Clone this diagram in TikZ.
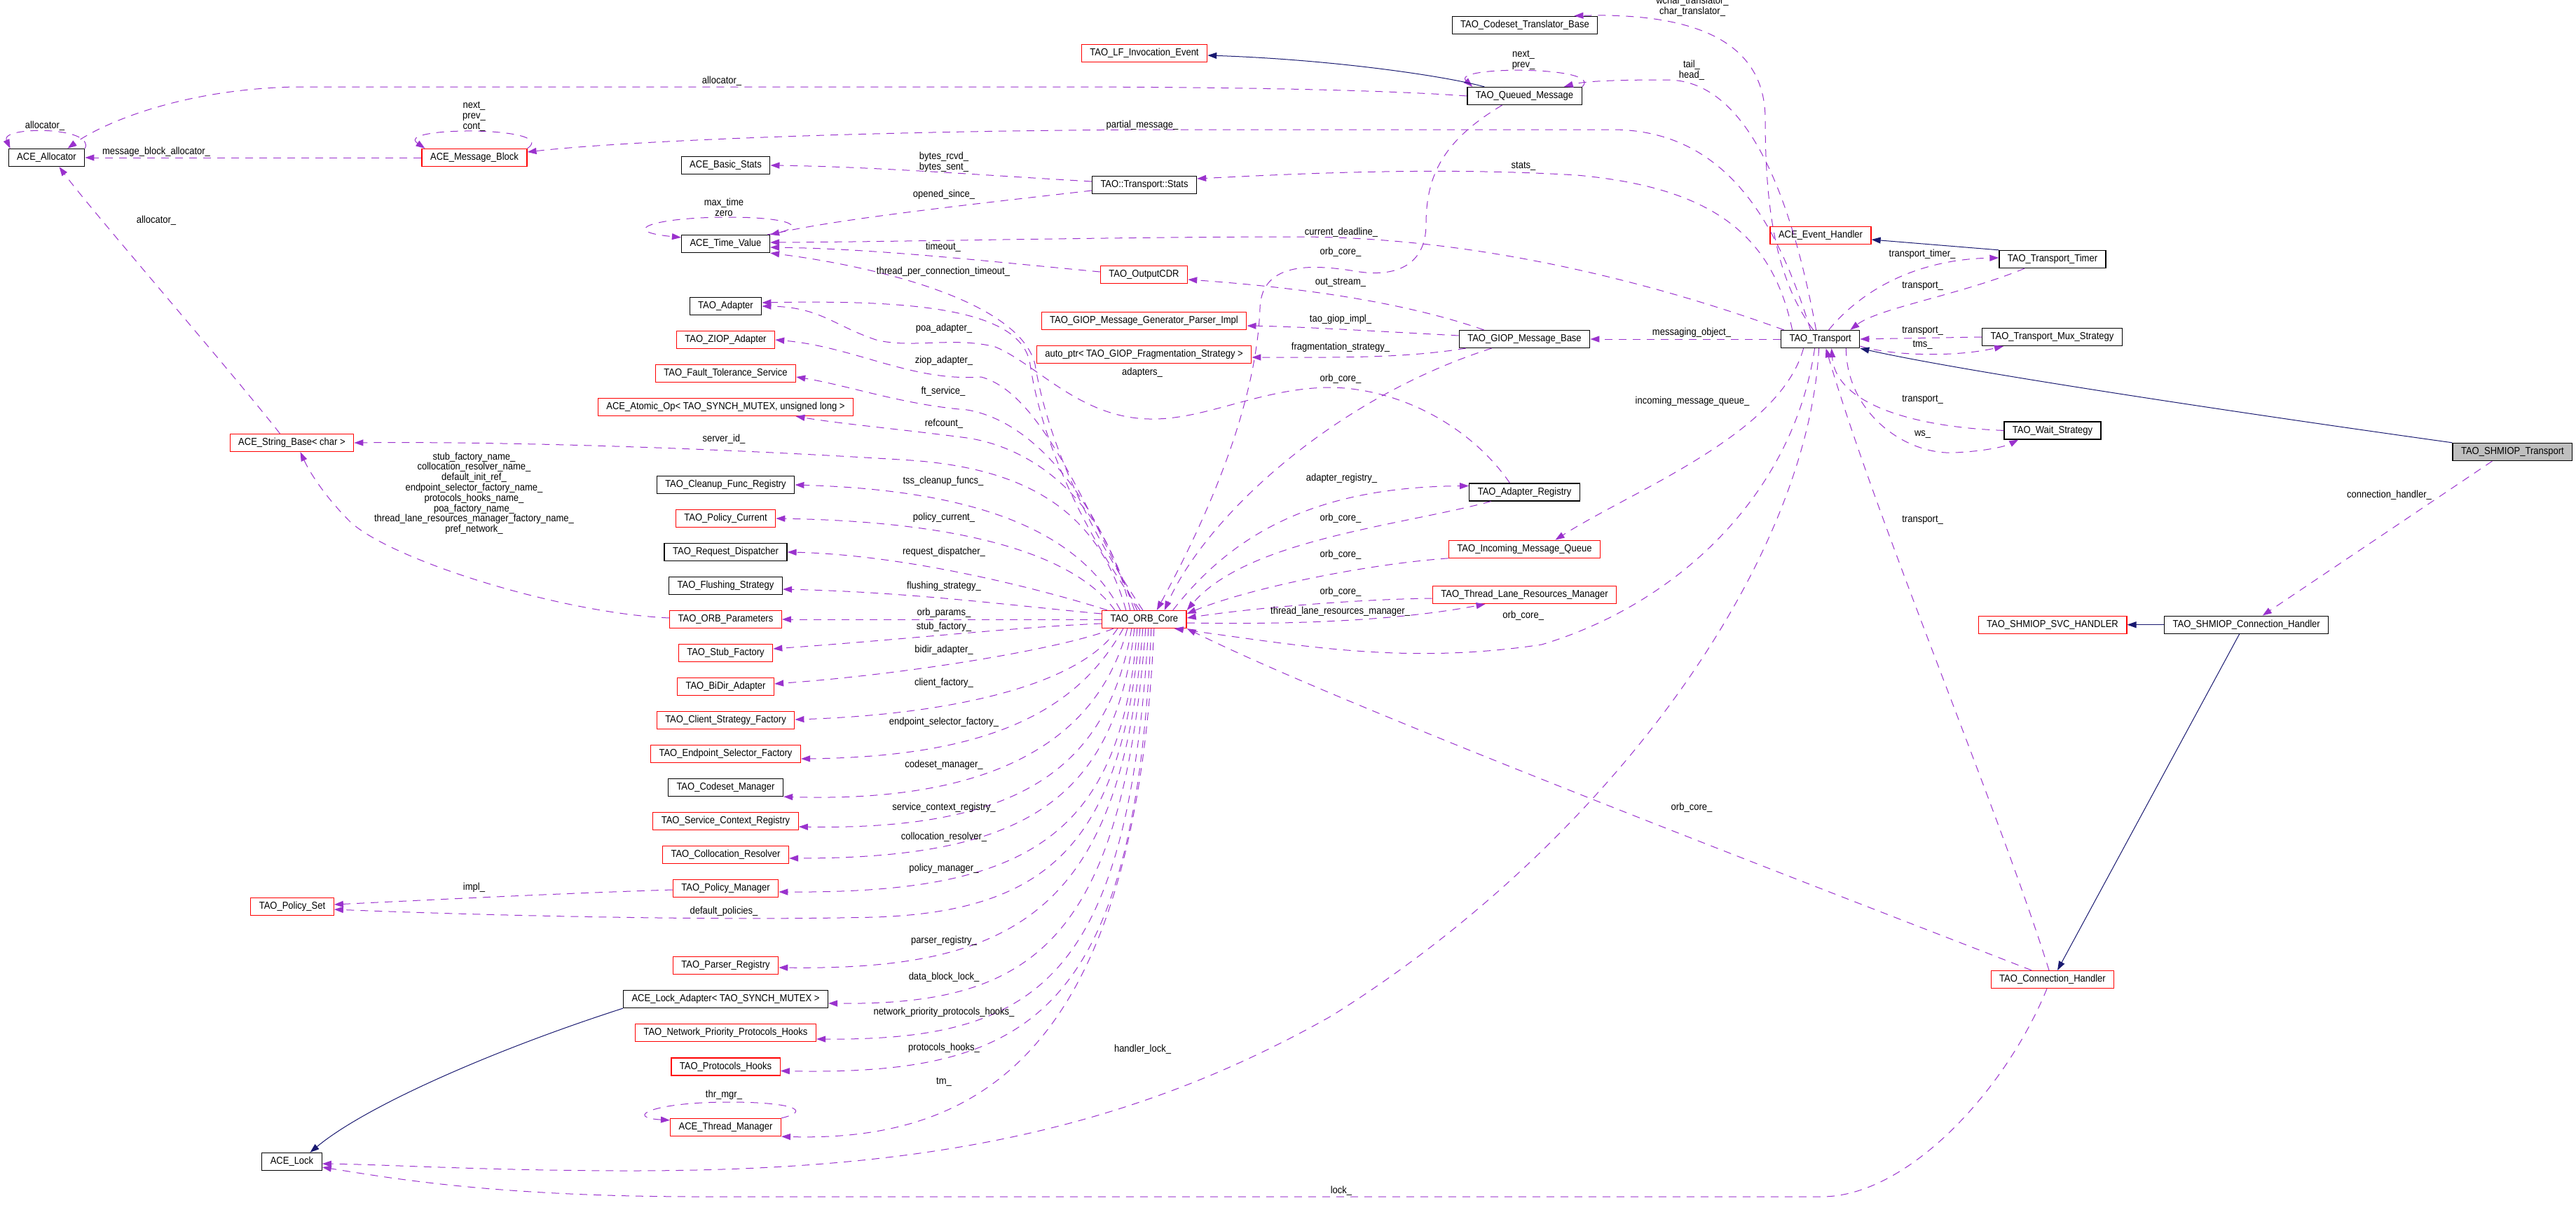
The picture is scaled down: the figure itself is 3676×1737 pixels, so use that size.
\documentclass[tikz,border=0pt]{standalone}
\usepackage{fontspec}
\setmainfont{Liberation Sans}[FakeStretch=0.9]
\usepackage{tikz}
\usetikzlibrary{arrows.meta}
\definecolor{relcol}{RGB}{154,50,205}
\definecolor{inhcol}{RGB}{25,25,112}
\definecolor{hilite}{RGB}{191,191,191}
\tikzset{
  classnode/.style = {rectangle, draw, line width=1.3pt, minimum height=25pt,
    inner xsep=12pt, inner ysep=0pt, font=\fontsize{14.45}{14.8}\selectfont},
  cls_n/.style = {classnode, draw=black},% classe, bord noir
  cls_r/.style = {classnode, draw=red},% classe, bord rouge
  cls_g/.style = {classnode, draw=black, fill=hilite},% classe du graphe
  rel_u/.style = {->, draw=relcol, line width=1pt,
    dash pattern=on 11pt off 9pt},% membre utilise
  rel_h/.style = {->, draw=inhcol, line width=1pt},% heritage
  rel_l/.style = {inner sep=0pt, align=center,
    font=\fontsize{14.45}{14.8}\selectfont}% nom du membre
}
\begin{document}
\begin{tikzpicture}[x=1pt,y=-1pt,>={Triangle[length=13pt,width=9pt]}]
\useasboundingbox (0,0) rectangle (3676,1737);
% classes
\node[cls_n] (alloc) at (66.5,225) {ACE\_Allocator};
\node[cls_r] (msgblk) at (677,225) {ACE\_Message\_Block};
\node[cls_r] (strbase) at (416.5,632) {ACE\_String\_Base< char >};
\node[cls_r] (polset) at (417,1294) {TAO\_Policy\_Set};
\node[cls_n] (acelock) at (416.5,1658) {ACE\_Lock};
\node[cls_n] (bstats) at (1035.5,236) {ACE\_Basic\_Stats};
\node[cls_n] (tval) at (1035.5,348) {ACE\_Time\_Value};
\node[cls_n] (adapter) at (1035.5,437) {TAO\_Adapter};
\node[cls_r] (ziop) at (1035.5,485) {TAO\_ZIOP\_Adapter};
\node[cls_r] (ftsvc) at (1035.5,533) {TAO\_Fault\_Tolerance\_Service};
\node[cls_r] (atomic) at (1035.5,581) {ACE\_Atomic\_Op< TAO\_SYNCH\_MUTEX, unsigned long >};
\node[cls_n] (cleanup) at (1035.5,692) {TAO\_Cleanup\_Func\_Registry};
\node[cls_r] (polcur) at (1035.5,740) {TAO\_Policy\_Current};
\node[cls_n] (reqdisp) at (1035.5,788) {TAO\_Request\_Dispatcher};
\node[cls_n] (flush) at (1035.5,836) {TAO\_Flushing\_Strategy};
\node[cls_r] (orbparams) at (1035.5,884) {TAO\_ORB\_Parameters};
\node[cls_r] (stubf) at (1035.5,932) {TAO\_Stub\_Factory};
\node[cls_r] (bidir) at (1035.5,980) {TAO\_BiDir\_Adapter};
\node[cls_r] (clientf) at (1035.5,1028) {TAO\_Client\_Strategy\_Factory};
\node[cls_r] (endpf) at (1035.5,1076) {TAO\_Endpoint\_Selector\_Factory};
\node[cls_n] (codeset) at (1035.5,1124) {TAO\_Codeset\_Manager};
\node[cls_r] (scr) at (1035.5,1172) {TAO\_Service\_Context\_Registry};
\node[cls_r] (collres) at (1035.5,1220) {TAO\_Collocation\_Resolver};
\node[cls_r] (polmgr) at (1035.5,1268) {TAO\_Policy\_Manager};
\node[cls_r] (parser) at (1035.5,1378) {TAO\_Parser\_Registry};
\node[cls_n] (lockad) at (1035.5,1426) {ACE\_Lock\_Adapter< TAO\_SYNCH\_MUTEX >};
\node[cls_r] (nphooks) at (1035.5,1474) {TAO\_Network\_Priority\_Protocols\_Hooks};
\node[cls_r] (phooks) at (1035.5,1522.5) {TAO\_Protocols\_Hooks};
\node[cls_r] (thrmgr) at (1035.5,1609) {ACE\_Thread\_Manager};
\node[cls_r] (lfinv) at (1633,76) {TAO\_LF\_Invocation\_Event};
\node[cls_n] (tstats) at (1633,264) {TAO::Transport::Stats};
\node[cls_r] (ocdr) at (1632.5,392) {TAO\_OutputCDR};
\node[cls_r] (gpimpl) at (1632.5,458) {TAO\_GIOP\_Message\_Generator\_Parser\_Impl};
\node[cls_r] (fragst) at (1632.5,506) {auto\_ptr< TAO\_GIOP\_Fragmentation\_Strategy >};
\node[cls_r] (core) at (1632.8,884) {TAO\_ORB\_Core};
\node[cls_n] (cstrans) at (2176,35.7) {TAO\_Codeset\_Translator\_Base};
\node[cls_n] (qmsg) at (2175.5,137) {TAO\_Queued\_Message};
\node[cls_n] (giop) at (2175.5,484) {TAO\_GIOP\_Message\_Base};
\node[cls_n] (adreg) at (2175.5,702.5) {TAO\_Adapter\_Registry};
\node[cls_r] (imq) at (2175.5,783.7) {TAO\_Incoming\_Message\_Queue};
\node[cls_r] (tlrm) at (2175.5,849) {TAO\_Thread\_Lane\_Resources\_Manager};
\node[cls_r] (evh) at (2598,336) {ACE\_Event\_Handler};
\node[cls_n] (transport) at (2597.6,484) {TAO\_Transport};
\node[cls_n] (ttimer) at (2929,370) {TAO\_Transport\_Timer};
\node[cls_n] (tmux) at (2928.5,481) {TAO\_Transport\_Mux\_Strategy};
\node[cls_n] (twait) at (2929,614.4) {TAO\_Wait\_Strategy};
\node[cls_r] (svch) at (2929,891.7) {TAO\_SHMIOP\_SVC\_HANDLER};
\node[cls_r] (connh) at (2929,1398) {TAO\_Connection\_Handler};
\node[cls_n] (shmch) at (3205.7,891.7) {TAO\_SHMIOP\_Connection\_Handler};
\node[cls_g] (shmt) at (3585.4,645) {TAO\_SHMIOP\_Transport};

% ACE_Allocator, ACE_Message_Block
\draw[rel_u] (alloc.north east) .. controls (135,180) and (0,180) .. ([xshift=3pt]alloc.north west);
\draw[rel_u] (qmsg.west) .. controls (2000,130) and (1800,124) .. (1500,124) -- (420,124) .. controls (250,128) and (140,180) .. ([xshift=30pt]alloc.north);
\draw[rel_u] (msgblk.west) -- (alloc.east);
\draw[rel_u] ([xshift=-17pt]strbase.north) .. controls (330,530) and (130,300) .. ([xshift=18pt]alloc.south);
\draw[rel_u] (msgblk.north east) .. controls (800,180) and (560,180) .. ([xshift=5pt]msgblk.north west);
\draw[rel_u] ([xshift=-14pt]transport.north) .. controls (2540,330) and (2470,185) .. (2300,185) -- (1700,185) .. controls (1300,185) and (900,200) .. ([yshift=8pt]msgblk.east);

% TAO_Transport, upwards
\draw[rel_u] ([xshift=-10pt]transport.north) .. controls (2535,400) and (2519,300) .. (2519,170) .. controls (2519,60) and (2420,18) .. ([xshift=-34pt]cstrans.north east);
\draw[rel_u] ([xshift=-6pt]transport.north) .. controls (2560,300) and (2500,115) .. (2380,114) .. controls (2300,114) and (2260,116) .. ([xshift=-26pt]qmsg.north east);
\draw[rel_u] (qmsg.north east) .. controls (2290,94) and (2070,94) .. ([xshift=8pt]qmsg.north west);
\draw[rel_h] ([xshift=25pt]qmsg.north west) .. controls (2060,108) and (1900,85) .. ([yshift=-3pt]lfinv.east);
\draw[rel_u] ([xshift=-32pt]qmsg.south) .. controls (2060,200) and (2035,250) .. (2035,320) .. controls (2035,380) and (1990,395) .. (1940,388) .. controls (1880,378) and (1800,370) .. (1798,440) .. controls (1792,600) and (1700,780) .. ([xshift=18pt]core.north);
\draw[rel_u] ([xshift=-40pt]transport.north) .. controls (2530,340) and (2450,268) .. (2250,250) .. controls (2050,238) and (1850,248) .. ([yshift=9pt]tstats.east);
\draw[rel_u] ([xshift=-52pt]transport.north) .. controls (2350,400) and (2100,338) .. (1850,338) .. controls (1600,338) and (1300,345) .. ([yshift=2pt]tval.east);

% TAO_Transport, right side
\draw[rel_h] (ttimer.north west) -- ([yshift=-6pt]evh.east);
\draw[rel_u] ([xshift=12pt]transport.north) .. controls (2660,410) and (2740,370) .. ([yshift=2pt]ttimer.west);
\draw[rel_u] ([xshift=-40pt]ttimer.south) .. controls (2800,420) and (2680,440) .. ([xshift=-14pt]transport.north east);
\draw[rel_u] (tmux.west) -- (transport.east);
\draw[rel_u] ([yshift=-10pt]transport.east) .. controls (2700,508) and (2790,510) .. ([xshift=31pt]tmux.south west);
\draw[rel_h] (shmt.north west) .. controls (3200,590) and (2800,530) .. (transport.south east);
\draw[rel_u] ([xshift=-20pt]transport.south east) .. controls (2635,590) and (2720,650) .. (2790,646) .. controls (2830,644) and (2860,638) .. ([xshift=21pt]twait.south west);
\draw[rel_u] (twait.west) .. controls (2740,610) and (2620,580) .. ([xshift=16pt]transport.south);

% connection handlers
\draw[rel_u] ([xshift=-29pt]shmt.south) -- ([xshift=23pt]shmch.north);
\draw[rel_h] (shmch.west) -- (svch.east);
\draw[rel_h] ([xshift=-10pt]shmch.south) -- ([xshift=7pt]connh.north);
\draw[rel_u] ([xshift=-5pt]connh.north) .. controls (2850,1150) and (2680,750) .. ([xshift=8pt]transport.south);
\draw[rel_u] ([xshift=-30pt]connh.north) .. controls (2500,1230) and (1900,1000) .. (core.south east);
\draw[rel_u] ([xshift=-8pt]connh.south) .. controls (2860,1560) and (2720,1708) .. (2600,1708) -- (1000,1708) .. controls (700,1708) and (550,1680) .. ([yshift=-8pt]acelock.east);
\draw[rel_u] ([xshift=-2pt]transport.south) .. controls (2580,800) and (2300,1200) .. (1900,1450) .. controls (1600,1620) and (1300,1671) .. (900,1671) .. controls (700,1671) and (550,1662) .. ([yshift=-3pt]acelock.east);

% TAO_Transport, left and down
\draw[rel_u] (transport.west) -- (giop.east);
\draw[rel_u] ([xshift=-24pt]transport.south) .. controls (2540,620) and (2330,700) .. ([xshift=44pt]imq.north);
\draw[rel_u] ([xshift=-8pt]transport.south) .. controls (2560,700) and (2400,860) .. (2200,920) .. controls (2000,950) and (1850,920) .. ([xshift=-18pt]core.south east);

% TAO_GIOP_Message_Base
\draw[rel_u] ([xshift=-58pt]giop.north) .. controls (2000,430) and (1850,410) .. ([yshift=-7pt]ocdr.east);
\draw[rel_u] ([yshift=5pt]giop.west) .. controls (1950,472) and (1850,466) .. ([yshift=-7pt]gpimpl.east);
\draw[rel_u] ([xshift=10pt]giop.south west) .. controls (2000,512) and (1900,510) .. ([yshift=-4pt]fragst.east);
\draw[rel_u] ([xshift=-47pt]giop.south) .. controls (1900,570) and (1720,740) .. ([xshift=29pt]core.north);

% stats, time value
\draw[rel_u] ([yshift=5pt]tstats.west) .. controls (1400,250) and (1250,238) .. (bstats.east);
\draw[rel_u] ([yshift=-8pt]tstats.west) .. controls (1400,290) and (1200,312) .. (tval.north east);
\draw[rel_u] ([xshift=-4pt]tval.north east) .. controls (1160,325) and (1130,310) .. (1040,310) .. controls (930,310) and (880,330) .. ([yshift=-4pt]tval.north west);
\draw[rel_u] ([yshift=4pt]ocdr.west) .. controls (1400,372) and (1250,355) .. ([yshift=-5pt]tval.east);

% TAO_ORB_Core, upper members
\draw[rel_u] ([xshift=-2pt]core.north) .. controls (1530,720) and (1490,600) .. (1477,520) .. controls (1455,430) and (1250,380) .. (tval.south east);
\draw[rel_u] ([xshift=-6pt]core.north) .. controls (1520,720) and (1482,600) .. (1470,520) .. controls (1458,440) and (1300,428) .. ([yshift=5pt]adapter.east);
\draw[rel_u] ([xshift=-10pt]core.north) .. controls (1540,700) and (1480,560) .. (1400,538) .. controls (1300,545) and (1220,495) .. (ziop.east);
\draw[rel_u] ([xshift=-14pt]core.north) .. controls (1560,700) and (1470,600) .. (1380,585) .. controls (1290,578) and (1210,550) .. ([yshift=-5pt]ftsvc.east);
\draw[rel_u] ([xshift=-20pt]core.north) .. controls (1580,720) and (1480,640) .. (1380,625) .. controls (1280,612) and (1200,605) .. ([xshift=100pt]atomic.south);
\draw[rel_u] ([xshift=-26pt]core.north) .. controls (1570,740) and (1480,670) .. (1300,657) .. controls (1000,638) and (700,630) .. (strbase.east);
\draw[rel_u] ([xshift=-34pt]core.north) .. controls (1540,760) and (1400,700) .. (cleanup.east);
\draw[rel_u] ([xshift=-42pt]core.north) .. controls (1540,800) and (1400,745) .. (polcur.east);
\draw[rel_u] ([xshift=8pt]core.north west) .. controls (1500,845) and (1300,792) .. (reqdisp.east);
\draw[rel_u] ([yshift=8pt]core.west) .. controls (1450,865) and (1300,845) .. ([yshift=-5pt]flush.east);
\draw[rel_u] (core.west) -- (orbparams.east);
\draw[rel_u] ([yshift=-6pt]core.west) .. controls (1450,895) and (1300,912) .. ([yshift=6pt]stubf.east);
\draw[rel_u] ([yshift=2pt]orbparams.west) .. controls (800,875) and (560,800) .. (500,745) .. controls (460,705) and (440,670) .. ([xshift=12pt]strbase.south);
\draw[rel_u] ([xshift=-21pt]adreg.north) .. controls (2100,610) and (2000,555) .. (1900,553) .. controls (1800,553) and (1720,600) .. (1640,598) .. controls (1540,596) and (1480,520) .. (1420,495) .. controls (1360,480) and (1300,498) .. (1250,485) .. controls (1190,465) and (1170,438) .. (adapter.east);

% TAO_ORB_Core, lower members
\draw[rel_u] ([xshift=-44pt]core.south) .. controls (1520,925) and (1300,962) .. ([yshift=4pt]bidir.east);
\draw[rel_u] ([xshift=-38pt]core.south) .. controls (1540,980) and (1350,1020) .. ([yshift=1pt]clientf.east);
\draw[rel_u] ([xshift=-30pt]core.south) .. controls (1540,1010) and (1420,1080) .. ([yshift=-7pt]endpf.east);
\draw[rel_u] ([xshift=-24pt]core.south) .. controls (1560,1080) and (1380,1145) .. (codeset.south east);
\draw[rel_u] ([xshift=-18pt]core.south) .. controls (1580,1100) and (1450,1185) .. ([yshift=-8pt]scr.east);
\draw[rel_u] ([xshift=-14pt]core.south) .. controls (1590,1150) and (1450,1225) .. ([yshift=-5pt]collres.east);
\draw[rel_u] ([xshift=-10pt]core.south) .. controls (1600,1200) and (1460,1275) .. ([yshift=-5pt]polmgr.east);
\draw[rel_u] ([xshift=-6pt]core.south) .. controls (1600,1200) and (1500,1300) .. (1250,1309) .. controls (1000,1315) and (650,1305) .. ([yshift=-4pt]polset.east);
\draw[rel_u] ([yshift=-2pt]polmgr.west) .. controls (800,1275) and (600,1285) .. ([yshift=3pt]polset.east);
\draw[rel_u] ([xshift=-2pt]core.south) .. controls (1600,1300) and (1450,1385) .. ([yshift=-3pt]parser.east);
\draw[rel_u] ([xshift=2pt]core.south) .. controls (1600,1350) and (1470,1435) .. ([yshift=-6pt]lockad.east);
\draw[rel_u] ([xshift=6pt]core.south) .. controls (1610,1400) and (1480,1485) .. ([yshift=-9pt]nphooks.east);
\draw[rel_u] ([xshift=10pt]core.south) .. controls (1620,1450) and (1470,1535) .. ([yshift=-6pt]phooks.east);
\draw[rel_u] ([xshift=14pt]core.south) .. controls (1620,1500) and (1400,1630) .. (thrmgr.south east);
\draw[rel_u] (thrmgr.north east) .. controls (1160,1585) and (1130,1573) .. (1040,1573) .. controls (930,1573) and (890,1595) .. ([yshift=-3pt]thrmgr.north west);
\draw[rel_h] (lockad.south west) .. controls (700,1500) and (520,1580) .. ([xshift=26pt]acelock.north);

% TAO_ORB_Core, right side
\draw[rel_u] ([xshift=-20pt]core.north east) .. controls (1760,760) and (1880,695) .. ([yshift=9pt]adreg.west);
\draw[rel_u] ([xshift=-48pt]adreg.south) .. controls (2000,750) and (1780,770) .. (core.north east);
\draw[rel_u] (imq.south west) .. controls (1950,805) and (1780,840) .. ([yshift=8pt]core.east);
\draw[rel_u] ([yshift=-5pt]tlrm.west) .. controls (1950,855) and (1800,866) .. ([yshift=2pt]core.east);
\draw[rel_u] ([yshift=-5pt]core.east) .. controls (1850,892) and (2000,885) .. ([xshift=-56pt]tlrm.south);

% member names
\node[rel_l] (l_alself) at (64,180) {allocator\_};
\node[rel_l] (l_alq) at (1030,116) {allocator\_};
\node[rel_l] (l_alstr) at (223,315) {allocator\_};
\node[rel_l] (l_mbself) at (676.5,166.5) {next\_\\prev\_\\cont\_};
\node[rel_l] (l_mba) at (223,216.5) {message\_block\_allocator\_};
\node[rel_l] (l_partial) at (1630,178.7) {partial\_message\_};
\node[rel_l] (l_cstr) at (2415,9) {wchar\_translator\_\\char\_translator\_};
\node[rel_l] (l_qself) at (2174,86) {next\_\\prev\_};
\node[rel_l] (l_tail) at (2414,100) {tail\_\\head\_};
\node[rel_l] (l_qorb) at (1913,359.5) {orb\_core\_};
\node[rel_l] (l_stats) at (2174,237) {stats\_};
\node[rel_l] (l_dead) at (1914,332) {current\_deadline\_};
\node[rel_l] (l_ttimer) at (2743,362.5) {transport\_timer\_};
\node[rel_l] (l_tttr) at (2743.6,408) {transport\_};
\node[rel_l] (l_tmtr) at (2743.6,472) {transport\_};
\node[rel_l] (l_tms) at (2743.6,492) {tms\_};
\node[rel_l] (l_twtr) at (2743.6,570.8) {transport\_};
\node[rel_l] (l_ws) at (2743.6,620) {ws\_};
\node[rel_l] (l_chtr) at (2743.6,742.8) {transport\_};
\node[rel_l] (l_chand) at (3409.5,707) {connection\_handler\_};
\node[rel_l] (l_chorb) at (2414,1152.6) {orb\_core\_};
\node[rel_l] (l_lock) at (1914,1699.7) {lock\_};
\node[rel_l] (l_hlock) at (1630.5,1498) {handler\_lock\_};
\node[rel_l] (l_msgobj) at (2414,474.6) {messaging\_object\_};
\node[rel_l] (l_imq) at (2415,572.6) {incoming\_message\_queue\_};
\node[rel_l] (l_torb) at (2173.7,878.5) {orb\_core\_};
\node[rel_l] (l_outs) at (1913,403.6) {out\_stream\_};
\node[rel_l] (l_gimpl) at (1913,455.7) {tao\_giop\_impl\_};
\node[rel_l] (l_frag) at (1913,495.7) {fragmentation\_strategy\_};
\node[rel_l] (l_gorb) at (1913,540.8) {orb\_core\_};
\node[rel_l] (l_bytes) at (1347,231.5) {bytes\_rcvd\_\\bytes\_sent\_};
\node[rel_l] (l_opened) at (1347,278) {opened\_since\_};
\node[rel_l] (l_tvself) at (1033,296) {max\_time\\zero};
\node[rel_l] (l_timeout) at (1346,352.5) {timeout\_};
\node[rel_l] (l_tpct) at (1346,388) {thread\_per\_connection\_timeout\_};
\node[rel_l] (l_poa) at (1347,469) {poa\_adapter\_};
\node[rel_l] (l_ziop) at (1347,514.5) {ziop\_adapter\_};
\node[rel_l] (l_ft) at (1346,559) {ft\_service\_};
\node[rel_l] (l_adapters) at (1630,531.5) {adapters\_};
\node[rel_l] (l_refc) at (1347,604.8) {refcount\_};
\node[rel_l] (l_srvid) at (1033,626.6) {server\_id\_};
\node[rel_l] (l_names) at (676.5,704.2) {stub\_factory\_name\_\\collocation\_resolver\_name\_\\default\_init\_ref\_\\endpoint\_selector\_factory\_name\_\\protocols\_hooks\_name\_\\poa\_factory\_name\_\\thread\_lane\_resources\_manager\_factory\_name\_\\pref\_network\_};
\node[rel_l] (l_tss) at (1346,687) {tss\_cleanup\_funcs\_};
\node[rel_l] (l_polcur) at (1347,739) {policy\_current\_};
\node[rel_l] (l_reqd) at (1347,787.5) {request\_dispatcher\_};
\node[rel_l] (l_flush) at (1347,836.4) {flushing\_strategy\_};
\node[rel_l] (l_orbp) at (1347,874.8) {orb\_params\_};
\node[rel_l] (l_stubf) at (1347,894.8) {stub\_factory\_};
\node[rel_l] (l_bidir) at (1347,927.7) {bidir\_adapter\_};
\node[rel_l] (l_clientf) at (1347,974.7) {client\_factory\_};
\node[rel_l] (l_endpf) at (1347,1030.6) {endpoint\_selector\_factory\_};
\node[rel_l] (l_codeset) at (1347,1092) {codeset\_manager\_};
\node[rel_l] (l_scr) at (1347,1152.6) {service\_context\_registry\_};
\node[rel_l] (l_collres) at (1347,1194.7) {collocation\_resolver\_};
\node[rel_l] (l_polmgr) at (1347,1240) {policy\_manager\_};
\node[rel_l] (l_defpol) at (1033,1300.5) {default\_policies\_};
\node[rel_l] (l_impl) at (676.5,1266.5) {impl\_};
\node[rel_l] (l_parser) at (1347,1342.7) {parser\_registry\_};
\node[rel_l] (l_dbl) at (1347,1394.5) {data\_block\_lock\_};
\node[rel_l] (l_nph) at (1347,1444.4) {network\_priority\_protocols\_hooks\_};
\node[rel_l] (l_ph) at (1347,1495.5) {protocols\_hooks\_};
\node[rel_l] (l_tm) at (1347,1544.7) {tm\_};
\node[rel_l] (l_thrself) at (1033,1563) {thr\_mgr\_};
\node[rel_l] (l_adreg) at (1914.4,682.5) {adapter\_registry\_};
\node[rel_l] (l_arorb) at (1913,740) {orb\_core\_};
\node[rel_l] (l_imqorb) at (1913,792) {orb\_core\_};
\node[rel_l] (l_tlorb) at (1913,845) {orb\_core\_};
\node[rel_l] (l_tlrm) at (1912.6,872.6) {thread\_lane\_resources\_manager\_};
\end{tikzpicture}
\end{document}
